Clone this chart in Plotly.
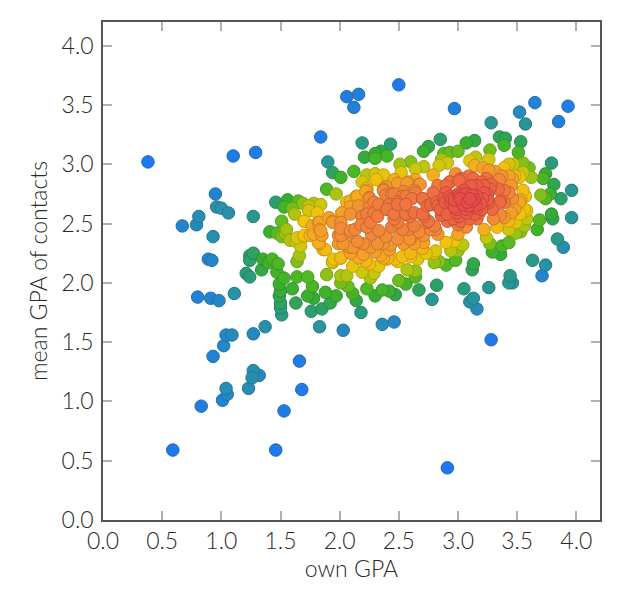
import numpy as np
import plotly.graph_objects as go

# ---- data (own GPA, mean GPA of contacts) ----
outer_x = [0.38,1.10,1.29,1.84,2.06,2.16,2.12,2.50,2.97,3.28,
           3.52,3.57,3.65,3.85,3.93,3.96,3.96,3.84,3.89,3.63,
           3.74,3.71,3.44,3.43,3.46,3.05,3.26,3.13,3.10,3.16,
           2.78,2.82,2.67,3.28,2.91,2.36,2.46,2.03,1.83,2.18,
           1.66,1.68,1.53,1.46,0.59,0.83,1.01,1.04,1.05,1.23,
           1.27,1.26,1.32,0.93,1.02,1.04,1.09,1.27,1.37,1.11,
           0.80,0.91,0.98,0.89,0.92,0.93,0.67,0.79,0.81,0.95,
           0.96,1.00,1.06,1.27]
outer_y = [3.02,3.07,3.10,3.23,3.57,3.59,3.48,3.67,3.47,3.35,
           3.44,3.34,3.52,3.36,3.49,2.78,2.55,2.37,2.30,2.19,
           2.15,2.06,2.06,2.00,2.00,1.95,1.96,1.87,1.84,1.78,
           1.86,1.98,1.94,1.52,0.44,1.65,1.67,1.60,1.63,1.75,
           1.34,1.10,0.92,0.59,0.59,0.96,1.01,1.11,1.06,1.11,
           1.26,1.20,1.22,1.38,1.47,1.56,1.56,1.57,1.63,1.91,
           1.88,1.87,1.85,2.20,2.19,2.39,2.48,2.49,2.56,2.75,
           2.64,2.63,2.59,2.56]

left_x = [1.27,1.24,1.24,1.35,1.40,1.34,1.21,1.24,1.41,1.46,
          1.56,1.65,1.53,1.60,1.69,1.74,1.78,1.84,1.74,1.62,
          1.81,1.89,1.97,1.70,1.77,1.83,1.83,1.85,1.88,1.83,
          1.75,1.70,1.67,1.63,1.66,1.64,1.54,1.47,1.51,1.58,
          1.43,1.48,1.47,1.53,1.49,1.50,1.49,1.50,1.50,1.51,
          1.60,1.63,1.64,1.73,1.77,1.73,1.78,1.88,1.92,1.85,
          1.76,1.97,1.89,2.01,2.06,2.01,2.07,2.11,2.14,2.11,
          2.19,2.25,2.23,2.30,2.36,2.42,2.47,2.50,2.56,2.64,
          2.64,2.57,2.49,2.33,2.29,2.26,2.80,2.73,2.60,1.51,1.55]
left_y = [2.25,2.23,2.19,2.20,2.17,2.11,2.08,2.05,2.43,2.68,
          2.70,2.69,2.64,2.63,2.67,2.65,2.67,2.66,2.61,2.58,
          2.59,2.79,2.75,2.52,2.48,2.51,2.45,2.40,2.28,2.33,
          2.40,2.39,2.31,2.35,2.23,2.18,2.42,2.42,2.39,2.36,
          2.20,2.16,2.09,2.04,1.99,1.93,1.89,1.83,1.79,1.73,
          1.95,1.83,2.05,2.05,1.97,1.89,1.87,1.92,1.83,1.78,
          1.76,1.89,2.07,2.06,2.06,2.00,1.97,1.91,1.85,2.14,
          2.09,2.16,1.95,1.89,1.94,1.93,1.90,2.02,1.99,2.10,
          2.05,2.11,2.18,2.14,2.08,2.04,2.17,2.25,2.22,2.52,2.45]

upper_x = [1.90,1.94,2.01,2.12,2.19,2.43,2.21,2.30,2.35,2.40,
           2.30,2.75,2.71,2.85,2.51,2.60,2.71,2.84,2.64,2.52,
           2.23,2.30,2.37,2.19,2.31,2.46,2.79,2.39,2.49,2.57,
           2.68,2.64,2.23]
upper_y = [3.02,2.93,2.89,2.94,3.18,3.17,3.06,3.09,3.11,3.07,
           3.05,3.15,3.11,3.21,3.00,3.02,2.98,2.99,2.96,2.93,
           2.91,2.92,2.91,2.85,2.87,2.87,2.91,2.81,2.84,2.84,
           2.83,2.87,2.80]

upright_x = [3.07,3.14,3.35,3.40,3.39,3.53,3.27,3.51,2.88,2.93,
             3.00,2.91,3.10,3.15,3.14,3.21,3.26,3.26,3.31,3.39,
             3.43,3.47,3.43,3.48,3.55,3.60,3.55,3.52,3.62,3.79,
             3.74,3.72,3.81,3.37,2.98,3.03,2.93,3.01,3.13,3.20,
             3.24,3.35,3.46,3.45,2.90,3.11,3.16,3.22,3.28,2.86]
upright_y = [3.18,3.20,3.23,3.22,3.16,3.19,3.12,3.10,3.09,3.10,
             3.11,3.01,3.03,3.06,2.99,2.97,3.04,2.95,2.94,2.97,
             3.00,3.00,2.90,2.90,3.01,2.97,2.93,2.89,2.89,3.01,
             2.92,2.88,2.83,2.90,2.92,2.88,2.85,2.86,2.88,2.85,
             2.88,2.87,2.88,2.82,2.82,2.82,2.82,2.82,2.83,3.04]

right_x = [3.87,3.78,3.70,3.74,3.79,3.80,3.69,3.67,3.56,3.58,
           3.58,3.52,3.49,3.53,3.49,3.43,3.43,3.45,3.52,3.57,
           3.46,3.39,3.36,3.30,3.33,3.22,3.24,3.27,3.29,3.37,
           3.43,3.36,3.13,3.12,2.98,3.00,2.94,3.04,2.97,2.90,
           2.90,3.00,3.07,3.00,3.02,2.91,2.91,2.99,3.07,3.14,
           3.16,3.09,3.15,3.02,2.95,2.88,3.00,3.07,3.16,3.25,
           3.26,3.29,3.39,3.35,3.20,3.12,2.97,2.85,2.86]
right_y = [2.71,2.75,2.74,2.71,2.58,2.54,2.53,2.45,2.48,2.61,
           2.54,2.58,2.51,2.43,2.42,2.52,2.45,2.59,2.68,2.73,
           2.71,2.68,2.57,2.54,2.47,2.45,2.38,2.33,2.26,2.31,
           2.34,2.24,2.16,2.11,2.19,2.27,2.27,2.32,2.35,2.34,
           2.15,2.41,2.47,2.49,2.52,2.52,2.58,2.59,2.59,2.58,
           2.54,2.65,2.65,2.71,2.71,2.71,2.75,2.75,2.73,2.75,
           2.68,2.62,2.78,2.68,2.62,2.69,2.64,2.62,2.57]

core_x = [1.91,1.94,2.01,2.02,2.09,2.16,2.19,2.09,2.14,2.22,
          2.37,2.46,2.54,2.63,2.79,2.25,2.25,2.33,2.39,2.42,
          2.49,2.53,2.56,2.61,2.70,2.74,2.82,2.09,2.23,2.26,
          2.32,2.40,2.46,2.49,2.56,2.63,2.70,2.74,2.80,2.01,
          2.09,2.13,2.18,2.23,2.27,2.33,2.39,2.44,2.53,2.60,
          2.67,2.71,2.77,2.83,1.99,2.03,2.09,2.15,2.20,2.26,
          2.32,2.37,2.43,2.49,2.54,2.63,2.71,2.81,1.94,2.01,
          2.09,2.16,2.22,2.30,2.37,2.41,2.47,2.53,2.60,2.66,
          2.70,2.80,2.84]
core_y = [2.55,2.51,2.51,2.59,2.64,2.65,2.56,2.69,2.73,2.77,
          2.78,2.75,2.77,2.78,2.76,2.72,2.64,2.66,2.74,2.66,
          2.66,2.73,2.66,2.71,2.71,2.65,2.68,2.58,2.58,2.51,
          2.56,2.62,2.58,2.51,2.58,2.59,2.58,2.51,2.48,2.46,
          2.42,2.45,2.49,2.47,2.41,2.44,2.39,2.47,2.45,2.37,
          2.43,2.40,2.45,2.41,2.40,2.33,2.30,2.35,2.33,2.30,
          2.33,2.33,2.32,2.37,2.33,2.33,2.34,2.27,2.18,2.21,
          2.25,2.21,2.18,2.26,2.21,2.21,2.20,2.22,2.25,2.20,
          2.29,2.25,2.18]

coreleft_x = [1.94,2.02,2.06,2.15,2.23,2.25,2.19,2.09,2.01,1.99,
              2.06,2.11,2.20,2.29,2.46,2.40,2.49,2.44,2.37,2.29,
              2.42,2.35,2.40,1.82,1.84,1.78,1.82,1.86,1.70,1.64,
              1.70,1.74,1.95,2.01,1.94]
coreleft_y = [2.52,2.59,2.68,2.73,2.78,2.71,2.56,2.44,2.40,2.33,
              2.31,2.30,2.24,2.59,2.54,2.62,2.68,2.75,2.79,2.68,
              2.28,2.23,2.20,2.51,2.44,2.41,2.34,2.28,2.40,2.38,
              2.52,2.61,2.20,2.21,2.17]

coreright_x = [2.58,2.67,2.56,2.64,2.70,2.77,2.83,2.90,2.94,3.01,
               3.10,3.14,3.21,3.07,3.18,3.27,3.34,3.36,3.43,2.96,
               3.01,3.10,2.83,3.01,3.09,2.93,2.59,2.71,2.81,2.75,
               2.58,2.63,2.59,3.39,3.48,3.53,3.56,3.55,
               2.97,3.04,3.12,3.19,2.89,3.05,3.16,2.99,3.08,3.22,
               2.93,3.25]
coreright_y = [2.85,2.83,2.73,2.76,2.71,2.66,2.65,2.76,2.68,2.73,
               2.71,2.70,2.71,2.62,2.59,2.79,2.79,2.69,2.76,2.54,
               2.56,2.54,2.82,2.87,2.90,2.85,2.56,2.56,2.45,2.52,
               2.45,2.48,2.37,2.55,2.62,2.70,2.62,2.78,
               2.70,2.66,2.74,2.67,2.68,2.78,2.63,2.62,2.68,2.76,
               2.73,2.70]

own_gpa = np.array(outer_x + left_x + upper_x + upright_x + right_x
                   + core_x + coreleft_x + coreright_x)
contact_gpa = np.array(outer_y + left_y + upper_y + upright_y + right_y
                       + core_y + coreleft_y + coreright_y)

# ---- colour each point by local point density (gaussian kernel) ----
h = 0.18
dx = own_gpa[:, None] - own_gpa[None, :]
dy = contact_gpa[:, None] - contact_gpa[None, :]
dens = np.exp(-0.5 * (dx ** 2 + dy ** 2) / h ** 2).sum(axis=1)
rank = dens.argsort().argsort() / (len(dens) - 1)

order = np.argsort(rank)  # draw dense (warm) points on top
xs, ys, cs = own_gpa[order], contact_gpa[order], rank[order]

fill_scale = [[0.0, '#1f78ee'], [0.05, '#2384d0'], [0.10, '#288fae'],
              [0.16, '#2b9c78'], [0.24, '#36ae30'], [0.32, '#52b924'],
              [0.38, '#9cc414'], [0.44, '#ccc70e'], [0.51, '#f2c40a'],
              [0.60, '#f4a624'], [0.74, '#f28a38'], [0.88, '#ef6c42'],
              [1.0, '#e84a4a']]
line_scale = [[0.0, '#1a64c6'], [0.05, '#1d6fae'], [0.10, '#217890'],
              [0.16, '#238262'], [0.24, '#2c902a'], [0.32, '#449a1e'],
              [0.38, '#84a210'], [0.44, '#aca60a'], [0.51, '#cca208'],
              [0.60, '#cc8a1e'], [0.74, '#c8722e'], [0.88, '#c65836'],
              [1.0, '#c23c3c']]

fig = go.Figure(go.Scatter(
    x=xs, y=ys, mode='markers',
    marker=dict(size=12.5, color=cs, colorscale=fill_scale, cmin=0, cmax=1,
                line=dict(width=1, color=cs, colorscale=line_scale, cmin=0, cmax=1)),
    hoverinfo='x+y', showlegend=False))

font_family = 'Lato, "Open Sans", sans-serif'
title_font = dict(family=font_family, size=23, color='#2a2a2a', weight=300)
axis_common = dict(
    range=[0, 4.2], tickmode='linear', tick0=0, dtick=0.5, tickformat='.1f',
    showgrid=False, zeroline=False, showline=True, linecolor='#555555', linewidth=1.5,
    mirror='ticks', ticks='inside', ticklen=9, tickcolor='#b0b0b0', tickwidth=1.5,
    tickfont=dict(family=font_family, size=23, color='#2a2a2a', weight=300),
    automargin=False,
)

# the page body adds an 8px offset, so the figure is sized to fit inside it
fig.update_layout(
    width=616, height=598,
    margin=dict(l=95, r=24, t=14, b=86),
    paper_bgcolor='white', plot_bgcolor='white',
    xaxis=dict(**axis_common, title=dict(text='own GPA', standoff=4, font=title_font)),
    yaxis=dict(**axis_common, ticklabelstandoff=3,
               title=dict(text='mean GPA of contacts', standoff=8, font=title_font)),
)

fig.write_html('out.html')
